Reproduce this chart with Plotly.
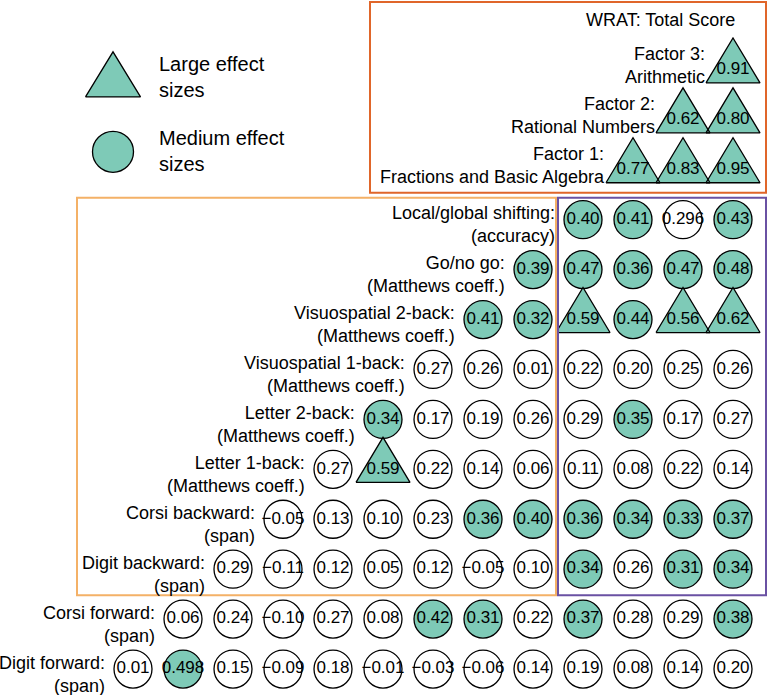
import plotly.graph_objects as go

# ---------------- data ----------------
row_labels = [
    "Digit forward:<br>(span)",
    "Corsi forward:<br>(span)",
    "Digit backward:<br>(span)",
    "Corsi backward:<br>(span)",
    "Letter 1-back:<br>(Matthews coeff.)",
    "Letter 2-back:<br>(Matthews coeff.)",
    "Visuospatial 1-back:<br>(Matthews coeff.)",
    "Visuospatial 2-back:<br>(Matthews coeff.)",
    "Go/no go:<br>(Matthews coeff.)",
    "Local/global shifting:<br>(accuracy)",
    "Factor 1:<br>Fractions and Basic Algebra",
    "Factor 2:<br>Rational Numbers",
    "Factor 3:<br>Arithmetic",
]
top_label = "WRAT: Total Score"

digit_forward = [0.01, 0.498, 0.15, -0.09, 0.18, -0.01, -0.03, -0.06, 0.14, 0.19, 0.08, 0.14, 0.20]
corsi_forward = [0.06, 0.24, -0.10, 0.27, 0.08, 0.42, 0.31, 0.22, 0.37, 0.28, 0.29, 0.38]
digit_backward = [0.29, -0.11, 0.12, 0.05, 0.12, -0.05, 0.10, 0.34, 0.26, 0.31, 0.34]
corsi_backward = [-0.05, 0.13, 0.10, 0.23, 0.36, 0.40, 0.36, 0.34, 0.33, 0.37]
letter_1back = [0.27, 0.59, 0.22, 0.14, 0.06, 0.11, 0.08, 0.22, 0.14]
letter_2back = [0.34, 0.17, 0.19, 0.26, 0.29, 0.35, 0.17, 0.27]
visuo_1back = [0.27, 0.26, 0.01, 0.22, 0.20, 0.25, 0.26]
visuo_2back = [0.41, 0.32, 0.59, 0.44, 0.56, 0.62]
go_nogo = [0.39, 0.47, 0.36, 0.47, 0.48]
local_global = [0.40, 0.41, 0.296, 0.43]
factor1 = [0.77, 0.83, 0.95]
factor2 = [0.62, 0.80]
factor3 = [0.91]

# effect size class per cell: "" none, "M" medium (filled circle), "L" large (triangle)
eff_digit_forward = ["", "M", "", "", "", "", "", "", "", "", "", "", ""]
eff_corsi_forward = ["", "", "", "", "", "M", "M", "", "M", "", "", "M"]
eff_digit_backward = ["", "", "", "", "", "", "", "M", "", "M", "M"]
eff_corsi_backward = ["", "", "", "", "M", "M", "M", "M", "M", "M"]
eff_letter_1back = ["", "L", "", "", "", "", "", "", ""]
eff_letter_2back = ["M", "", "", "", "", "M", "", ""]
eff_visuo_1back = ["", "", "", "", "", "", ""]
eff_visuo_2back = ["M", "M", "L", "M", "L", "L"]
eff_go_nogo = ["M", "M", "M", "M", "M"]
eff_local_global = ["M", "M", "", "M"]
eff_factor1 = ["L", "L", "L"]
eff_factor2 = ["L", "L"]
eff_factor3 = ["L"]

rows = [digit_forward, corsi_forward, digit_backward, corsi_backward, letter_1back,
        letter_2back, visuo_1back, visuo_2back, go_nogo, local_global,
        factor1, factor2, factor3]
effects = [eff_digit_forward, eff_corsi_forward, eff_digit_backward, eff_corsi_backward,
           eff_letter_1back, eff_letter_2back, eff_visuo_1back, eff_visuo_2back,
           eff_go_nogo, eff_local_global, eff_factor1, eff_factor2, eff_factor3]

# ---------------- styling ----------------
TEAL = "#7ECAB7"
FONT = "Liberation Sans, Arial, Helvetica, sans-serif"
YS = 49.92  # px per row unit
XS = 50.0   # px per column unit

def fmt(v):
    s = f"{abs(v):.2f}" if abs(round(v, 2) - v) < 1e-9 else f"{abs(v):.3f}"
    return ("\u2212" + s) if v < 0 else s

# triangle geometry (in data units relative to cell centre)
T_UP, T_DN, T_HW = 32 / YS, 13 / YS, 27 / XS

cx_m, cy_m, cx_e, cy_e = [], [], [], []
tx, ty = [], []
vx, vy, vt = [], [], []
for r, (vals, effs) in enumerate(zip(rows, effects)):
    for k, (v, e) in enumerate(zip(vals, effs)):
        c = r + k
        if e == "L":
            tx += [c - T_HW, c + T_HW, c, c - T_HW, None]
            ty += [r - T_DN, r - T_DN, r + T_UP, r - T_DN, None]
        elif e == "M":
            cx_m.append(c); cy_m.append(r)
        else:
            cx_e.append(c); cy_e.append(r)
        vx.append(c); vy.append(r); vt.append(fmt(v))

fig = go.Figure()
fig.add_trace(go.Scatter(x=cx_e, y=cy_e, mode="markers", hoverinfo="skip",
                         marker=dict(size=38, color="white", line=dict(color="black", width=1.3))))
fig.add_trace(go.Scatter(x=cx_m, y=cy_m, mode="markers", hoverinfo="skip",
                         marker=dict(size=38, color=TEAL, line=dict(color="black", width=1.3))))
fig.add_trace(go.Scatter(x=tx, y=ty, mode="lines", fill="toself", fillcolor=TEAL,
                         line=dict(color="black", width=1.3), hoverinfo="skip"))
fig.add_trace(go.Scatter(x=vx, y=vy, mode="text", text=vt, hoverinfo="skip",
                         textfont=dict(size=17, color="black", family=FONT)))

# legend glyphs
lgx, lgy_t, lgy_c = -0.4, 11.72, 10.36
fig.add_trace(go.Scatter(x=[lgx - 0.55, lgx + 0.55, lgx, lgx - 0.55],
                         y=[lgy_t - T_DN, lgy_t - T_DN, lgy_t + T_UP, lgy_t - T_DN],
                         mode="lines", fill="toself", fillcolor=TEAL,
                         line=dict(color="black", width=1.3), hoverinfo="skip"))
fig.add_trace(go.Scatter(x=[lgx], y=[lgy_c], mode="markers", hoverinfo="skip",
                         marker=dict(size=41, color=TEAL, line=dict(color="black", width=1.3))))

ann = []
for r, lab in enumerate(row_labels):
    ann.append(dict(x=r - 0.52, y=r, xref="x", yref="y", text=lab, showarrow=False,
                    xanchor="right", yanchor="middle", align="right",
                    yshift=4 if r >= 10 else -5,
                    font=dict(size=18, color="black", family=FONT)))
ann.append(dict(x=12.08, y=13, xref="x", yref="y", text=top_label, showarrow=False,
                xanchor="right", yanchor="middle", font=dict(size=18, color="black", family=FONT)))
ann.append(dict(x=0.48, y=11.86, xref="x", yref="y", text="Large effect<br>sizes", showarrow=False,
                xanchor="left", yanchor="middle", align="left",
                font=dict(size=20, color="black", family=FONT)))
ann.append(dict(x=0.48, y=10.37, xref="x", yref="y", text="Medium effect<br>sizes", showarrow=False,
                xanchor="left", yanchor="middle", align="left",
                font=dict(size=20, color="black", family=FONT)))

shapes = [
    dict(type="rect", xref="x", yref="y", x0=4.74, x1=12.66, y0=9.54, y1=13.36,
         line=dict(color="#E0662A", width=2)),
    dict(type="rect", xref="x", yref="y", x0=-1.12, x1=8.46, y0=1.48, y1=9.44,
         line=dict(color="#F4B167", width=2)),
    dict(type="rect", xref="x", yref="y", x0=8.5, x1=12.66, y0=1.48, y1=9.44,
         line=dict(color="#6A51A3", width=2)),
]

fig.update_layout(
    width=769, height=695, margin=dict(l=0, r=0, t=0, b=0),
    paper_bgcolor="white", plot_bgcolor="white", showlegend=False,
    xaxis=dict(range=[-2.66, 12.72], visible=False, fixedrange=True),
    yaxis=dict(range=[-0.52, 13.40], visible=False, fixedrange=True),
    annotations=ann, shapes=shapes,
)
fig.write_html("out.html", config={"displayModeBar": False},
               post_script="document.body.style.margin='0';")
